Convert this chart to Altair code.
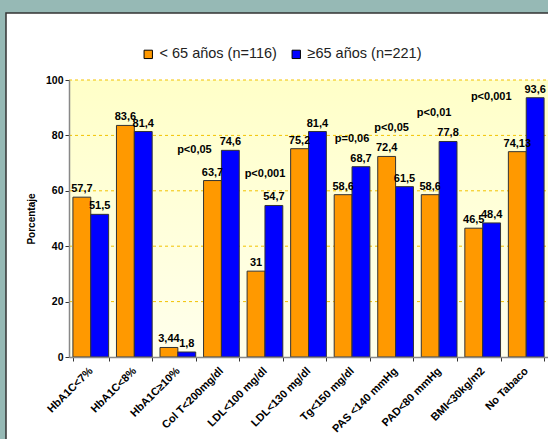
import altair as alt
import pandas as pd

categories = ["HbA1C<7%", "HbA1C<8%", "HbA1C≥10%", "Col T<200mg/dl", "LDL<100 mg/dl",
              "LDL<130 mg/dl", "Tg<150 mg/dl", "PAS <140 mmHg", "PAD<80 mmHg",
              "BMI<30kg/m2", "No Tabaco"]
series_names = ["< 65 años (n=116)", "≥65 años (n=221)"]
young = [57.7, 83.6, 3.44, 63.7, 31, 75.2, 58.6, 72.4, 58.6, 46.5, 74.13]
old = [51.5, 81.4, 1.8, 74.6, 54.7, 81.4, 68.7, 61.5, 77.8, 48.4, 93.6]
y_ticks = [0, 20, 40, 60, 80, 100]
grid_values = [20, 40, 60, 80, 100]
ann_cats = ["Col T<200mg/dl", "LDL<100 mg/dl", "Tg<150 mg/dl", "PAS <140 mmHg",
            "PAD<80 mmHg", "No Tabaco"]
ann_texts = ["p<0,05", "p<0,001", "p=0,06", "p<0,05", "p<0,01", "p<0,001"]
ann_levels = [74.7, 66.0, 78.7, 82.7, 88.1, 93.9]
ann_dx = [-27, 0, 0, -4, -5, -35]

rows = []
for name, vals in zip(series_names, [young, old]):
    for c, v in zip(categories, vals):
        rows.append({"cat": c, "grupo": name, "valor": v, "lab": str(v).replace(".", ",")})
df = pd.DataFrame(rows)

W, H = 479, 277
FONT = "Liberation Sans"

xenc = alt.X("cat:N", sort=categories, title=None,
             scale=alt.Scale(paddingInner=0.18, paddingOuter=0.09),
             axis=alt.Axis(labelAngle=-45, labelAlign="right", labelBaseline="middle",
                           labelFontWeight="bold", labelFontSize=11, labelColor="#000",
                           labelFont=FONT, tickBand="extent", tickColor="#333",
                           tickSize=4, domainColor="#888", domainWidth=1.5,
                           labelPadding=8, grid=False, zindex=1))
yscale = alt.Scale(domain=[0, 100], nice=False)
yenc = alt.Y("valor:Q", scale=yscale, title="Porcentaje",
             axis=alt.Axis(values=y_ticks, grid=False, labelFontWeight="bold",
                           labelFontSize=10.5, labelFont=FONT, labelColor="#000",
                           tickColor="#333", tickSize=4, domainColor="#888",
                           domainWidth=1.5, titleFont=FONT, titleFontSize=10,
                           titleFontWeight="bold", titleColor="#000", titlePadding=9,
                           zindex=1))
color = alt.Color("grupo:N", sort=series_names,
                  scale=alt.Scale(domain=series_names, range=["#FF9900", "#0000FF"]),
                  legend=alt.Legend(title=None, orient="none", direction="horizontal",
                                    legendX=72, legendY=-33, symbolType="square",
                                    symbolSize=70, symbolStrokeColor="#000",
                                    symbolStrokeWidth=1, labelFontSize=14.5,
                                    labelFont=FONT, labelColor="#222",
                                    columnPadding=12, symbolOffset=0, zindex=1))

one = pd.DataFrame({"k": [0]})
panel = alt.Chart(one).mark_rect(fill="white", stroke="#333", strokeWidth=1.5).encode(
    x=alt.value(-63), x2=alt.value(W + 60), y=alt.value(-67), y2=alt.value(H + 120))
bg = alt.Chart(one).mark_rect(
    color=alt.LinearGradient(gradient="linear", x1=0, y1=0, x2=0, y2=1,
                             stops=[alt.GradientStop(color="#FFFFC8", offset=0),
                                    alt.GradientStop(color="#FFFFEC", offset=1)])
).encode(x=alt.value(0), x2=alt.value(W), y=alt.value(0), y2=alt.value(H))
grid = alt.Chart(pd.DataFrame({"g": grid_values})).mark_rule(
    color="#F2C200", strokeDash=[3, 3], strokeWidth=1).encode(
    y=alt.Y("g:Q", scale=yscale), x=alt.value(0), x2=alt.value(W))

bars = alt.Chart(df).mark_bar(stroke="#333", strokeWidth=1).encode(
    x=xenc, y=yenc, color=color, xOffset=alt.XOffset("grupo:N", sort=series_names))
labels = alt.Chart(df).mark_text(baseline="bottom", dy=-3, fontWeight="bold",
                                 fontSize=11, font=FONT, color="#000").encode(
    x=alt.X("cat:N", sort=categories), y=alt.Y("valor:Q", scale=yscale),
    xOffset=alt.XOffset("grupo:N", sort=series_names), text="lab:N")

layers = [panel, bg, grid, bars, labels]
for c, t, lv, dx in zip(ann_cats, ann_texts, ann_levels, ann_dx):
    layers.append(alt.Chart(pd.DataFrame({"cat": [c], "t": [t], "lv": [lv]})).mark_text(
        dx=dx, baseline="middle", fontWeight="bold", fontSize=11, font=FONT,
        color="#000").encode(x=alt.X("cat:N", sort=categories),
                             y=alt.Y("lv:Q", scale=yscale), text="t:N"))

chart = alt.layer(*layers).properties(
    width=W, height=H,
    autosize=alt.AutoSizeParams(type="none"),
    padding={"left": 69, "top": 80, "right": 0, "bottom": 82},
    background="#96B9B5",
).configure_view(stroke=None)

chart.save("out.html", embed_options={"renderer": "svg", "actions": False})
